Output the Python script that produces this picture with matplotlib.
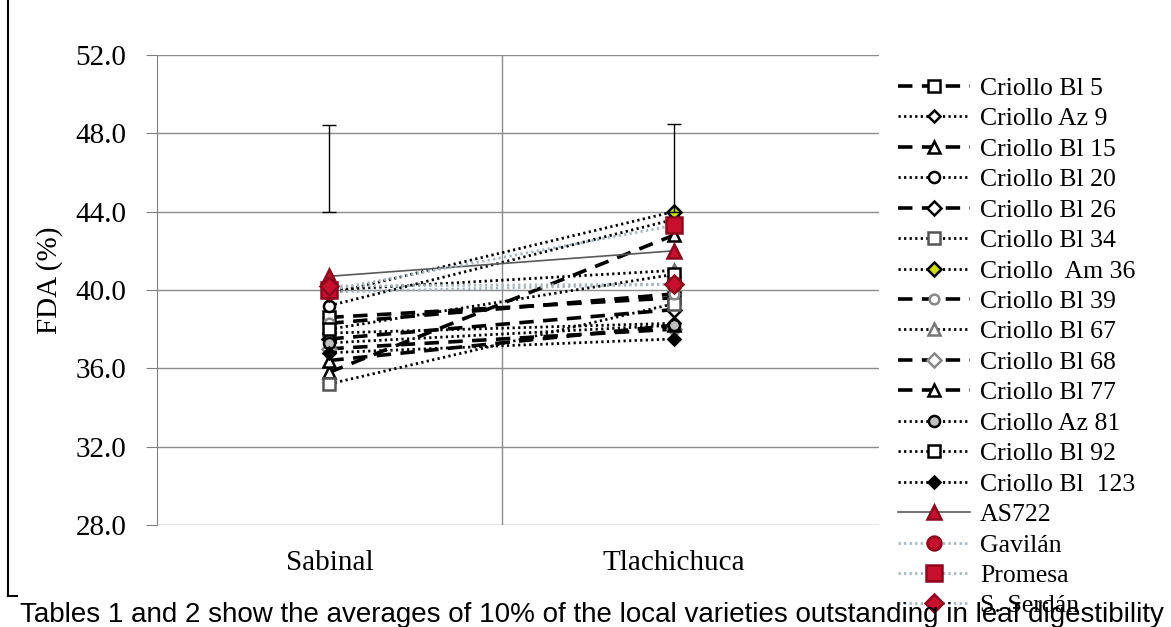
import matplotlib
matplotlib.use("Agg")
import matplotlib.pyplot as plt
from matplotlib.lines import Line2D

# FDA (%) of local maize varieties at two sites
categories = ['Sabinal', 'Tlachichuca']
names = ['Criollo Bl 5', 'Criollo Az 9', 'Criollo Bl 15', 'Criollo Bl 20',
         'Criollo Bl 26', 'Criollo Bl 34', 'Criollo  Am 36', 'Criollo Bl 39',
         'Criollo Bl 67', 'Criollo Bl 68', 'Criollo Bl 77', 'Criollo Az 81',
         'Criollo Bl 92', 'Criollo Bl  123', 'AS722', 'Gavilán', 'Promesa',
         'S. Serdán']
sabinal = [38.6, 37.8, 35.8, 39.2, 37.5, 35.2, 39.8, 38.3, 40.0, 37.0,
           36.4, 37.3, 38.0, 36.8, 40.7, 39.9, 40.0, 40.2]
tlachichuca = [39.6, 38.3, 42.8, 43.6, 39.0, 39.3, 44.0, 39.8, 41.0, 38.0,
               38.2, 38.2, 40.8, 37.5, 42.0, 40.3, 43.3, 40.3]
# error bar (low, high) per site
err_low = [44.0, 44.0]
err_high = [48.4, 48.5]
yticks = [28.0, 32.0, 36.0, 40.0, 44.0, 48.0, 52.0]
caption = ("Tables 1 and 2 show the averages of 10% of the local varieties "
           "outstanding in leaf digestibility")

RED = '#c8102e'
DASH = (0, (4.0, 2.6))
DOT = (0, (0.8, 1.2))

# style per series: linestyle, color, lw, marker, face, edge, size
styles = [
    (DASH, 'black', 2.6, 's', 'white', 'black', 8),
    (DOT, 'black', 2.0, 'D', 'white', 'black', 6),
    (DASH, 'black', 2.6, '^', 'white', 'black', 8),
    (DOT, 'black', 2.0, 'o', 'white', 'black', 8),
    (DASH, 'black', 2.6, 'D', 'white', 'black', 7),
    (DOT, 'black', 2.0, 's', 'white', '#555555', 9),
    (DOT, 'black', 2.0, 'D', '#ccdd00', 'black', 7),
    (DASH, 'black', 2.6, 'o', 'white', '#888888', 7),
    (DOT, 'black', 2.0, '^', 'white', '#777777', 8),
    (DASH, 'black', 2.6, 'D', 'white', '#888888', 7),
    (DASH, 'black', 2.6, '^', 'white', 'black', 8),
    (DOT, 'black', 2.0, 'o', '#bfbfbf', 'black', 8),
    (DOT, 'black', 2.0, 's', 'white', 'black', 8),
    (DOT, 'black', 2.0, 'D', 'black', 'black', 6),
    ('-', '#595959', 1.2, '^', RED, '#8b0a1e', 10),
    (DOT, '#a6b4bc', 2.0, 'o', RED, '#8b0a1e', 10),
    (DOT, '#a6b4bc', 2.0, 's', RED, '#8b0a1e', 11),
    (DOT, '#a6b4bc', 2.0, 'D', RED, '#8b0a1e', 9),
]

plt.rcParams['font.family'] = ['Liberation Serif', 'DejaVu Serif']

fig = plt.figure(figsize=(11.71, 6.27), dpi=100)
ax = fig.add_axes([157 / 1171, 1 - 525 / 627, 722 / 1171, 470 / 627])

x = list(range(len(categories)))
for i, name in enumerate(names):
    ls, c, lw, m, fc, ec, ms = styles[i]
    ax.plot(x, [sabinal[i], tlachichuca[i]], linestyle=ls, color=c, lw=lw,
            marker=m, markerfacecolor=fc, markeredgecolor=ec, markersize=ms,
            markeredgewidth=1.8, label=name, zorder=3 + (i >= 14))

mid = [(lo + hi) / 2 for lo, hi in zip(err_low, err_high)]
half = [(hi - lo) / 2 for lo, hi in zip(err_low, err_high)]
ax.errorbar(x, mid, yerr=half, fmt='none', ecolor='black', elinewidth=1.0,
            capsize=5, capthick=1.0, zorder=5)

ax.set_xlim(-0.5, 1.595)
ax.set_ylim(28, 52)
ax.set_yticks(yticks)
ax.set_yticklabels([f'{v:.1f}' for v in yticks], fontsize=21)
ax.set_xticks(x)
ax.set_xticklabels(categories, fontsize=21)
ax.set_xticks([0.5], minor=True)
ax.tick_params(axis='x', which='both', length=0, pad=18)
ax.tick_params(axis='y', length=8, color='#808080', pad=14)
ax.grid(axis='y', color='#8c8c8c', lw=1.0)
ax.grid(axis='x', which='minor', color='#8c8c8c', lw=1.0)
ax.set_axisbelow(True)
for s in ['top', 'right', 'bottom']:
    ax.spines[s].set_visible(False)
ax.spines['left'].set_color('#808080')
ax.set_ylabel('FDA (%)', fontsize=21)
ax.yaxis.set_label_coords((63 - 157) / 722, (525 - 280) / 470)

leg = ax.legend(loc='upper left', bbox_to_anchor=(898 / 1171, 1 - 77 / 627),
                bbox_transform=fig.transFigure, frameon=False, fontsize=18.5,
                numpoints=1, handlelength=2.8, handletextpad=0.4,
                labelspacing=0.29, borderaxespad=0, borderpad=0)

# document frame pieces and caption
fig.add_artist(Line2D([8 / 1171, 8 / 1171], [1 - 596 / 627, 1.0],
                      color='black', lw=1.5, transform=fig.transFigure))
fig.add_artist(Line2D([8 / 1171, 17 / 1171], [1 - 596 / 627, 1 - 596 / 627],
                      color='black', lw=1.5, transform=fig.transFigure))
fig.text(20 / 1171, 1 - 622 / 627, caption, fontsize=20,
         family=['Liberation Sans', 'DejaVu Sans'], va='baseline', ha='left',
         zorder=10)

fig.savefig('out.png', dpi=100, facecolor='white')
